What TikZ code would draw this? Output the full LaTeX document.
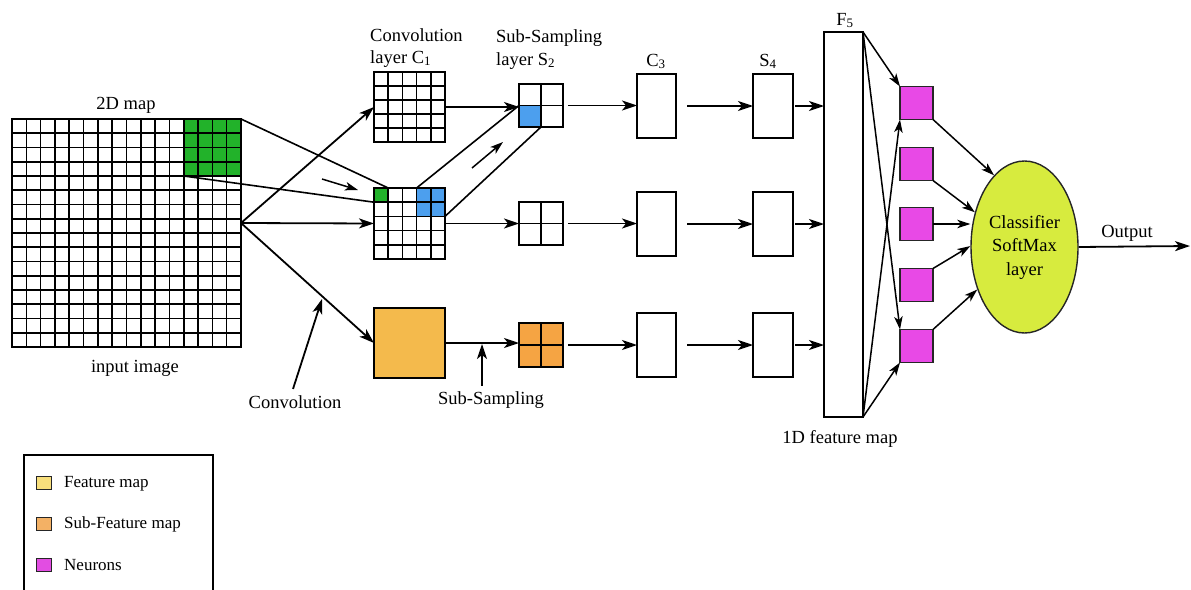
\documentclass[tikz,border=0pt]{standalone}
\usepackage{fontspec}
\setmainfont{Liberation Serif}
\usetikzlibrary{arrows.meta,calc,shapes.geometric}
\definecolor{gridgreen}{HTML}{22B22A}
\definecolor{poolblue}{HTML}{4C9FEE}
\definecolor{featorange}{HTML}{F4BA4C}
\definecolor{suborange}{HTML}{F5A443}
\definecolor{neuronpink}{HTML}{E849E6}
\definecolor{softlime}{HTML}{D7EB3E}
\definecolor{keyyellow}{HTML}{F8DF7C}
\definecolor{keyorange}{HTML}{F3B165}
\definecolor{keypink}{HTML}{E24DE2}
% inner cell lines of a rectangular node: #1 node, #2 columns, #3 rows
\newcommand\cellgrid[3]{%
  \foreach \k in {1,...,#2}
    \draw[cellline] ($(#1.north west)!\k/#2!(#1.north east)$) -- ($(#1.south west)!\k/#2!(#1.south east)$);
  \foreach \k in {1,...,#3}
    \draw[cellline] ($(#1.north west)!\k/#3!(#1.south west)$) -- ($(#1.north east)!\k/#3!(#1.south east)$);
}
\begin{document}
\begin{tikzpicture}[x=1pt,y=-1pt,
  frame/.style={draw=black, line width=1.7pt, inner sep=0pt, outer sep=0pt, anchor=north west},
  fillbox/.style={inner sep=0pt, outer sep=0pt},
  cellline/.style={draw=black, line width=1.6pt},
  edge/.style={draw=black, line width=1.7pt},
  link/.style={draw=black, line width=1.6pt},
  arr/.style={draw=black, line width=1.8pt, -{Stealth[length=15pt,width=10pt,inset=4pt]}},
  sarr/.style={draw=black, line width=1.5pt, -{Stealth[length=13pt,width=8.5pt,inset=3.5pt]}},
  lbl/.style={font=\fontsize{18.5}{23}\selectfont, inner sep=0pt, text=black},
  neuron/.style={draw=black!85, fill=neuronpink, line width=1.4pt, minimum size=33pt, inner sep=0pt, outer sep=0pt},
  keybox/.style={draw=black!85, line width=1.3pt, minimum width=15pt, minimum height=13pt, inner sep=0pt, anchor=north west}
]
\useasboundingbox (0,0) rectangle (1191,589);

% ---- input image (16 x 16) with the receptive field ----
\node[frame, minimum width=229pt, minimum height=228pt] (in) at (12,119) {};
\node[fillbox, fill=gridgreen, anchor=north east, minimum width=57.25pt, minimum height=57pt] (gblk) at (in.north east) {};
\cellgrid{in}{16}{16}
\draw[edge] (in.north west) rectangle (in.south east);
\node[lbl, anchor=base] (t2d) at (126,109) {2D map};
\node[lbl, anchor=base] (tin) at (135,372) {input image};

% ---- convolution layer C1 ----
\node[frame, minimum width=71pt, minimum height=70pt] (c1a) at (374,72) {};
\cellgrid{c1a}{5}{5}
\node[frame, minimum width=71pt, minimum height=71pt] (c1b) at (374,188) {};
\node[fillbox, fill=gridgreen, anchor=north west, minimum width=14.2pt, minimum height=14.2pt] (gcell) at (c1b.north west) {};
\node[fillbox, fill=poolblue, anchor=north east, minimum width=28.4pt, minimum height=28.4pt] (bblk) at (c1b.north east) {};
\cellgrid{c1b}{5}{5}
\draw[edge] (c1b.north west) rectangle (c1b.south east);
\node[frame, fill=featorange, minimum width=71pt, minimum height=70pt] (fm) at (374,308) {};
\node[lbl, anchor=base west] (tc1a) at (370,41) {Convolution};
\node[lbl, anchor=base west] (tc1b) at (370,63) {layer C\textsubscript{1}};

% ---- sub-sampling layer S2 ----
\node[frame, minimum width=44pt, minimum height=43pt] (s2a) at (519,84) {};
\node[fillbox, fill=poolblue, anchor=south west, minimum width=22pt, minimum height=21.5pt] (bcell) at (s2a.south west) {};
\cellgrid{s2a}{2}{2}
\draw[edge] (s2a.north west) rectangle (s2a.south east);
\node[frame, minimum width=44pt, minimum height=43pt] (s2b) at (519,202) {};
\cellgrid{s2b}{2}{2}
\node[frame, fill=suborange, minimum width=44pt, minimum height=44pt] (s2c) at (519,323) {};
\cellgrid{s2c}{2}{2}
\node[lbl, anchor=base west] (ts2a) at (496,42) {Sub-Sampling};
\node[lbl, anchor=base west] (ts2b) at (496,65) {layer S\textsubscript{2}};

% ---- C3 and S4 ----
\foreach \n/\y in {a/74, b/192, c/313} {
  \node[frame, minimum width=39pt, minimum height=64pt] (c3\n) at (637,\y) {};
  \node[frame, minimum width=40pt, minimum height=64pt] (s4\n) at (753,\y) {};
}
\node[lbl, anchor=base] (tc3) at (656,66) {C\textsubscript{3}};
\node[lbl, anchor=base] (ts4) at (768,66) {S\textsubscript{4}};

% ---- F5 ----
\node[frame, minimum width=39pt, minimum height=385pt] (f5) at (824,32) {};
\node[lbl, anchor=base] (tf5) at (845,25) {F\textsubscript{5}};
\node[lbl, anchor=base] (tf5b) at (840,443) {1D feature map};

% ---- neurons and classifier ----
\foreach \i/\y in {1/103, 2/164, 3/224, 4/285, 5/346}
  \node[neuron] (n\i) at (916.5,\y) {};
\node[ellipse, draw=black!85, fill=softlime, line width=1.4pt, minimum width=107pt, minimum height=172pt,
      inner sep=0pt, align=center, font=\fontsize{18.5}{23.5}\selectfont] (clf) at (1024.5,247)
      {Classifier\\SoftMax\\layer};
\node[lbl, anchor=base] (tout) at (1127,237) {Output};
\coordinate (out) at (1190,246);

% ---- connectors: input to C1 ----
\coordinate (src) at ($(in.north east)+(0,104)$);
\draw[arr] (src) -- (c1a.west);
\draw[arr] (src) -- (c1b.west);
\draw[arr] (src) -- (fm.west);
\draw[link] (gblk.north east) -- (gcell.north east);
\draw[link] (gblk.south west) -- (gcell.south west);
\coordinate (ga) at (322,179);
\coordinate (gb) at (358,190);
\draw[sarr] (ga) -- (gb);

% ---- C1 to S2 ----
\draw[arr] (c1a.east) -- (c1a.east -| s2a.west);
\draw[arr] (c1b.east) -- (s2b.west);
\draw[arr] (fm.east) -- (fm.east -| s2c.west);
\draw[link] (bblk.north west) -- (bcell.north west);
\draw[link] (bblk.south east) -- (bcell.south east);
\coordinate (ba) at (472,168);
\coordinate (bb) at (503,142);
\draw[sarr] (ba) -- (bb);

% ---- annotations ----
\node[lbl, anchor=base] (tconv) at (295,408) {Convolution};
\coordinate (convtip) at (322,299);
\draw[arr] ($(tconv.north)+(-2,-6)$) -- (convtip);
\node[lbl, anchor=base] (tsub) at (491,404) {Sub-Sampling};
\coordinate (subtip) at (482,344);
\draw[arr] ($(tsub.north)+(-9,-5)$) -- (subtip);

% ---- S2 to C3 to S4 to F5 ----
\foreach \n in {a,b,c} {
  \draw[arr, shorten <=5pt] (s2\n.east) -- (s2\n.east -| c3\n.west);
  \draw[arr, shorten <=11pt] (c3\n.east) -- (s4\n.west);
  \draw[arr, shorten <=2pt] (s4\n.east) -- (s4\n.east -| f5.west);
}

% ---- F5 to neurons ----
\draw[sarr] (f5.north east) -- (n1.north west);
\draw[sarr] (f5.north east) -- (n5.north west);
\draw[sarr] (f5.south east) -- (n1.south west);
\draw[sarr] (f5.south east) -- (n5.south west);

% ---- neurons to classifier ----
\draw[sarr] (n1.south east) -- (clf.113);
\draw[sarr] (n2.south east) -- (clf.145);
\draw[sarr] (n3.east) -- (clf.west |- n3.east);
\draw[sarr] (n4.north east) -- (clf.179);
\draw[sarr] (n5.north east) -- (clf.222);
\draw[arr] (clf.east) -- (out);

% ---- legend ----
\node[frame, minimum width=189pt, minimum height=150pt] (key) at (24,455) {};
\node[keybox, fill=keyyellow] (k1) at (36,476) {};
\node[keybox, fill=keyorange] (k2) at (36,517) {};
\node[keybox, fill=keypink] (k3) at (36,558) {};
\node[lbl, anchor=base west, font=\fontsize{17}{20}\selectfont] (kt1) at (64,487) {Feature map};
\node[lbl, anchor=base west, font=\fontsize{17}{20}\selectfont] (kt2) at (64,528) {Sub-Feature map};
\node[lbl, anchor=base west, font=\fontsize{17}{20}\selectfont] (kt3) at (64,570) {Neurons};
\end{tikzpicture}
\end{document}
